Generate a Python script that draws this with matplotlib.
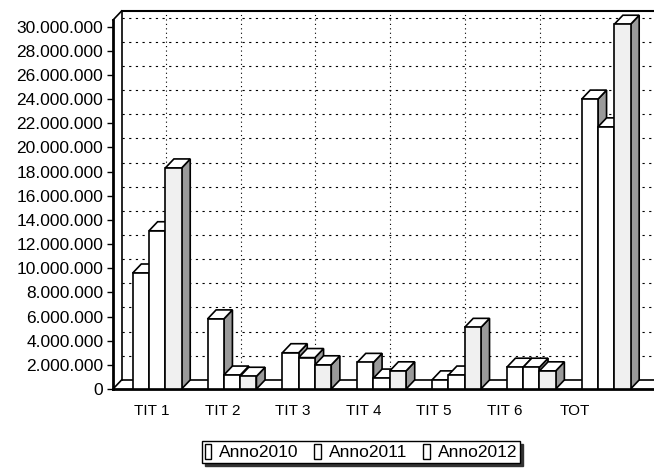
import numpy as np
import matplotlib.pyplot as plt
from matplotlib.patches import Rectangle

plt.rcParams['font.family'] = ['Liberation Sans', 'DejaVu Sans']

# data (euro)
categorie = ['TIT 1', 'TIT 2', 'TIT 3', 'TIT 4', 'TIT 5', 'TIT 6', 'TOT']
anno2010 = [9.6e6, 5.8e6, 3.0e6, 2.2e6, 0.75e6, 1.8e6, 24.0e6]
anno2011 = [13.1e6, 1.15e6, 2.6e6, 0.9e6, 1.15e6, 1.8e6, 21.7e6]
anno2012 = [18.3e6, 1.05e6, 2.0e6, 1.5e6, 5.1e6, 1.5e6, 30.2e6]
serie = ['Anno2010', 'Anno2011', 'Anno2012']
yticks = np.arange(0, 30e6 + 1, 2e6)

# look of the fake 3D
dx = 0.115     # depth, x units
dy = 0.75e6    # depth, y units
w = 0.218      # bar width
xmin, xmax = -0.59, 6.64
ytop = 31.3e6
front = ['white', 'white', '#f0f0f0']
side = '#9a9a9a'

fig = plt.figure(figsize=(6.54, 4.68), dpi=100)
ax = fig.add_axes([113/654, 79/468, 541/654, 378/468])
ax.set_xlim(xmin, xmax)
ax.set_ylim(0, ytop)

# back wall: grid, frame
for v in yticks[1:]:
    ax.plot([xmin + dx, xmax], [v + dy, v + dy], color='black', lw=0.8,
            ls=(0, (2, 4)), zorder=1)
x = np.arange(len(categorie))
for c in x[:-1]:
    ax.plot([c + dx, c + dx], [dy, ytop], color='black', lw=0.8,
            ls=(0, (1, 3)), zorder=1)
ax.plot([xmin + dx, xmin + dx], [dy, ytop], color='black', lw=1.2, zorder=1)
ax.plot([xmin + dx, xmax], [dy, dy], color='black', lw=1.2, zorder=1)
ax.plot([xmin + dx, xmax], [ytop, ytop], color='black', lw=1.5, zorder=1, clip_on=False)
ax.plot([xmin, xmin + dx], [0, dy], color='black', lw=1.2, zorder=1)
ax.plot([xmin, xmin + dx], [ytop - dy, ytop], color='black', lw=1.2, zorder=1, clip_on=False)

# bars
z = 3
for i, vals in enumerate([anno2010, anno2011, anno2012]):
    pos = x - w + i * w
    for j in range(len(categorie)):
        x0 = pos[j] - w / 2
        x1 = pos[j] + w / 2
        h = vals[j]
        ax.fill([x1, x1 + dx, x1 + dx, x1], [0, dy, h + dy, h],
                facecolor=side, edgecolor='black', lw=1.2, zorder=z + j * 10 + i * 3)
        ax.fill([x0, x0 + dx, x1 + dx, x1], [h, h + dy, h + dy, h],
                facecolor='white', edgecolor='black', lw=1.2, zorder=z + j * 10 + i * 3 + 1)
    bars = ax.bar(pos, vals, width=w, color=front[i], edgecolor='black', lw=1.2,
                  label=serie[i])
    for j, b in enumerate(bars):
        b.set_zorder(z + j * 10 + i * 3 + 2)

for s in ['top', 'right']:
    ax.spines[s].set_visible(False)
ax.spines['left'].set_bounds(0, ytop - dy)
ax.spines['left'].set_linewidth(2)
ax.spines['bottom'].set_linewidth(2)

ax.set_yticks(yticks)
ax.set_yticklabels(['{:,}'.format(int(v)).replace(',', '.') for v in yticks])
ax.tick_params(axis='y', length=4, width=1, labelsize=12.5, pad=3)
ax.set_xticks(x * 0.943 - 0.07)
ax.set_xticklabels(categorie)
ax.tick_params(axis='x', length=0, labelsize=11, pad=11)

handles = [Rectangle((0, 0), 1, 1, facecolor='white', edgecolor='black', lw=1)
           for _ in serie]
leg = fig.legend(handles, serie, loc='center', bbox_to_anchor=(361/654, 16/468),
                 ncol=3, fontsize=12.5, frameon=True, fancybox=False,
                 edgecolor='black', handlelength=0.4, handleheight=1.0,
                 handletextpad=0.45, columnspacing=0.9, borderpad=0.15,
                 shadow={'color': '#333333', 'alpha': 1})
leg.get_frame().set_linewidth(1)

fig.savefig('out.png', dpi=100)
